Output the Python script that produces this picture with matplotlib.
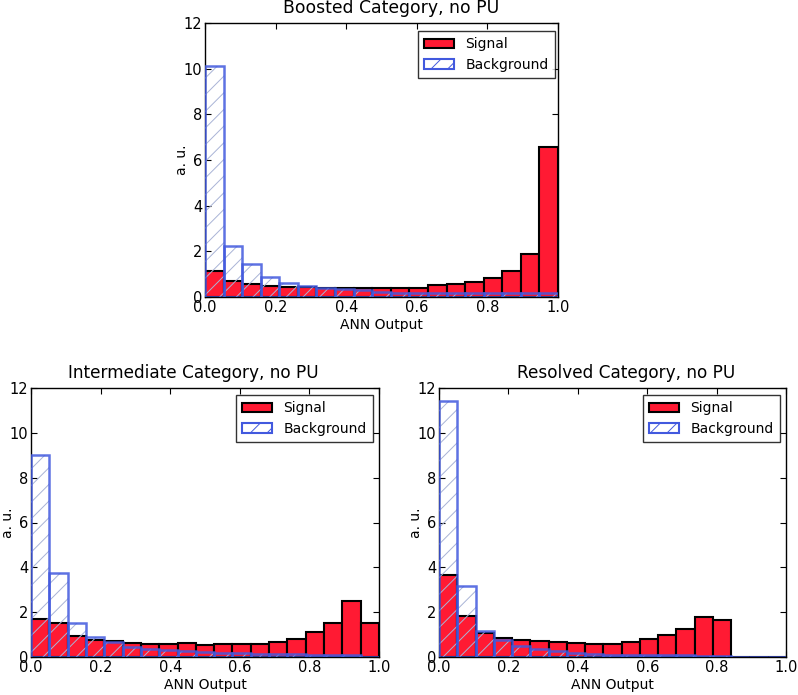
import numpy as np
import matplotlib
matplotlib.use("Agg")
import matplotlib.pyplot as plt
from matplotlib.patches import Patch

n_bins = 19
edges = np.linspace(0.0, 1.0, n_bins + 1)

boosted_sig = [1.14, 0.70, 0.59, 0.50, 0.44, 0.42, 0.38, 0.38, 0.40, 0.40, 0.41, 0.41,
               0.53, 0.56, 0.64, 0.85, 1.14, 1.87, 6.59]
boosted_bkg = [10.13, 2.24, 1.46, 0.88, 0.63, 0.47, 0.41, 0.35, 0.29, 0.23, 0.19, 0.18,
               0.17, 0.17, 0.16, 0.16, 0.16, 0.16, 0.16]

inter_sig = [1.69, 1.53, 0.92, 0.74, 0.70, 0.62, 0.56, 0.56, 0.61, 0.55, 0.59, 0.59,
             0.59, 0.67, 0.79, 1.13, 1.52, 2.50, 1.53]
inter_bkg = [9.03, 3.74, 1.52, 0.89, 0.65, 0.46, 0.36, 0.30, 0.25, 0.21, 0.18, 0.16,
             0.15, 0.13, 0.12, 0.10, 0.10, 0.09, 0.02]

resolved_sig = [3.67, 1.85, 1.05, 0.85, 0.76, 0.71, 0.65, 0.61, 0.59, 0.59, 0.67, 0.82,
                0.97, 1.26, 1.78, 1.63, 0.0, 0.0, 0.0]
resolved_bkg = [11.44, 3.16, 1.17, 0.75, 0.47, 0.34, 0.26, 0.19, 0.15, 0.11, 0.10, 0.08,
                0.07, 0.07, 0.06, 0.05, 0.0, 0.0, 0.0]

titles = ["Boosted Category, no PU", "Intermediate Category, no PU", "Resolved Category, no PU"]
xlabel = "ANN Output"
ylabel = "a. u."
xticks = [0.0, 0.2, 0.4, 0.6, 0.8, 1.0]
yticks = [0, 2, 4, 6, 8, 10, 12]

SIG_COLOR = "#ff1a33"
BKG_COLOR = "#4259de"
HATCH_COLOR = "#a9b3d6"

plt.rcParams["font.family"] = "DejaVu Sans"
plt.rcParams["font.size"] = 10
plt.rcParams["hatch.linewidth"] = 0.7

W, H = 798, 695
fig = plt.figure(figsize=(W / 100, H / 100), dpi=100, facecolor="white")

# axes boxes in pixels: left, top, right, bottom; title centre x and size
boxes = [(205, 23, 558, 297), (31, 388, 379, 657), (439, 388, 786, 657)]
title_cx = [391, 193, 626]
title_fs = [12.4, 12.2, 12.2]
legend_gap = [(3, 8), (6, 7), (6, 7)]


def add_ax(l, t, r, b):
    return fig.add_axes([l / W, 1 - b / H, (r - l) / W, (b - t) / H])


datasets = [(boosted_sig, boosted_bkg), (inter_sig, inter_bkg), (resolved_sig, resolved_bkg)]

width = edges[1] - edges[0]
for box, (sig, bkg), title, tcx, tfs, lg in zip(boxes, datasets, titles, title_cx, title_fs, legend_gap):
    l, t, r, b = box
    ax = add_ax(l, t, r, b)
    ax.bar(edges[:-1], sig, width=width, align="edge", color=SIG_COLOR,
           edgecolor="black", linewidth=1.5, zorder=2)
    ax.bar(edges[:-1], bkg, width=width, align="edge", facecolor="none",
           edgecolor=HATCH_COLOR, hatch="//", linewidth=0, zorder=3)
    ax.bar(edges[:-1], bkg, width=width, align="edge", facecolor="none",
           edgecolor=BKG_COLOR, linewidth=1.8, alpha=0.85, zorder=4)
    ax.set_xlim(0, 1)
    ax.set_ylim(0, 12)
    ax.set_xticks(xticks)
    ax.set_yticks(yticks)
    ax.set_xticklabels([f"{v:.1f}" for v in xticks])
    ax.tick_params(direction="in", top=True, right=True, length=4, labelsize=10.5, pad=2)
    for s in ax.spines.values():
        s.set_color("black")
        s.set_linewidth(1.0)
    fig.text(tcx / W, 1 - (t - 10) / H, title, fontsize=tfs, ha="center", va="baseline")
    ax.set_xlabel(xlabel, fontsize=10, labelpad=2)
    ax.set_ylabel(ylabel, fontsize=10)
    ax.yaxis.set_label_coords(-16 / (r - l), 0.5)
    h_sig = Patch(facecolor=SIG_COLOR, edgecolor="black", linewidth=1.5)
    h_bkg = Patch(facecolor="none", edgecolor=BKG_COLOR, hatch="//", linewidth=1.5)
    leg = ax.legend([h_sig, h_bkg], ["Signal", "Background"], loc="upper right",
                    bbox_to_anchor=(1 - lg[0] / (r - l), 1 - lg[1] / (b - t)),
                    fancybox=False, fontsize=10, borderaxespad=0.0, handlelength=2.2,
                    borderpad=0.45, handletextpad=0.8, labelspacing=0.5)
    leg.get_frame().set_edgecolor("black")
    leg.get_frame().set_linewidth(1.0)

fig.savefig("out.png", dpi=100, facecolor="white")
